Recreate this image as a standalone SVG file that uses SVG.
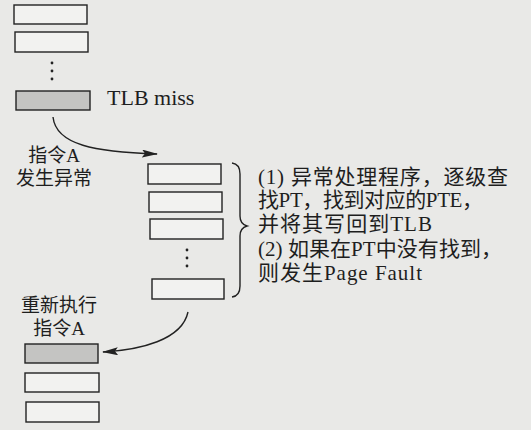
<svg xmlns="http://www.w3.org/2000/svg" width="531" height="430" viewBox="0 0 531 430">
<style>
.box{fill:#f2f2f0;stroke:#222;stroke-width:1.4}
.hit{fill:#c4c4c2;stroke:#222;stroke-width:1.4}
.dot{fill:#222}
.t{font-family:"Liberation Serif","Noto Sans CJK SC",serif;fill:#1e1e1e}
.conn{fill:none;stroke:#222;stroke-width:1.4}
</style>
<defs>
<marker id="ah" viewBox="0 0 16 8" refX="15" refY="4" markerWidth="16" markerHeight="8" markerUnits="userSpaceOnUse" orient="auto">
<path d="M0,0 L16,4 L0,8 L3,4 Z" fill="#222"/>
</marker>
</defs>
<rect width="531" height="430" fill="#e9e9e7"/>
<g id="left-stack">
<rect class="box" x="14" y="5" width="73" height="19"/>
<rect class="box" x="15" y="32" width="73" height="20"/>
<circle class="dot" cx="52" cy="63" r="1.4"/>
<circle class="dot" cx="52" cy="71" r="1.4"/>
<circle class="dot" cx="52" cy="79" r="1.4"/>
<rect class="hit" x="16" y="91" width="74" height="19"/>
<text class="t" x="107" y="105" font-size="22">TLB miss</text>
<text class="t" x="54" y="162" font-size="19" text-anchor="middle">指令A</text>
<text class="t" x="54" y="185" font-size="19" text-anchor="middle">发生异常</text>
</g>
<g id="handler">
<rect class="box" x="148" y="164" width="73" height="20"/>
<rect class="box" x="149" y="192" width="73" height="20"/>
<rect class="box" x="150" y="219" width="73" height="20"/>
<circle class="dot" cx="187" cy="250" r="1.4"/>
<circle class="dot" cx="187" cy="258" r="1.4"/>
<circle class="dot" cx="187" cy="266" r="1.4"/>
<rect class="box" x="152" y="279" width="72" height="20"/>
<path class="conn" d="M232,163 Q240,164 240,174 L240,216 Q240,224 247,226 Q240,228 240,236 L240,286 Q240,296 232,297"/>
<text class="t" font-size="21" x="258" y="184" textLength="250" lengthAdjust="spacing">(1) 异常处理程序，逐级查</text>
<text class="t" font-size="21" x="258" y="207" textLength="225" lengthAdjust="spacing">找PT，找到对应的PTE，</text>
<text class="t" font-size="21" x="258" y="231" textLength="174" lengthAdjust="spacing">并将其写回到TLB</text>
<text class="t" font-size="21" x="258" y="256" textLength="244" lengthAdjust="spacing">(2) 如果在PT中没有找到，</text>
<text class="t" font-size="21" x="258" y="280" textLength="164" lengthAdjust="spacing">则发生Page Fault</text>
</g>
<g id="restart">
<text class="t" x="59" y="312" font-size="19" text-anchor="middle">重新执行</text>
<text class="t" x="59" y="335" font-size="19" text-anchor="middle">指令A</text>
<rect class="hit" x="25" y="344" width="73" height="19"/>
<rect class="box" x="25" y="373" width="74" height="19"/>
<rect class="box" x="26" y="402" width="73" height="20"/>
</g>
<g id="connectors">
<path class="conn" d="M53,117 C56,145 95,152 157,154" marker-end="url(#ah)"/>
<path class="conn" d="M188,312 C182,340 140,350 103,352" marker-end="url(#ah)"/>
</g>
</svg>
